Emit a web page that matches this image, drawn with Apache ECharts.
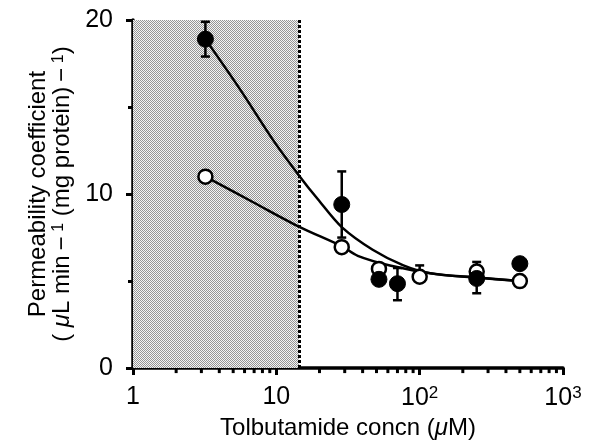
<!DOCTYPE html>
<html><head><meta charset="utf-8">
<script src="https://cdn.jsdelivr.net/npm/echarts@6/dist/echarts.min.js"></script>
<style>html,body{margin:0;padding:0;background:#fff}#c{width:594px;height:445px}</style>
</head><body><div id="c"></div>
<script>
// ---- data ----
const xTickLabels = {1: '1', 10: '10', 100: '10{sup|2}', 1000: '10{sup|3}'};
const yTickValues = [0, 10, 20];
const filledPoints = [[3.2, 18.9], [28.6, 9.4], [52, 5.1], [70, 4.85], [250, 5.15], [500, 6.0]];
const openPoints = [[3.2, 11.0], [28.6, 6.95], [52, 5.7], [100, 5.25], [250, 5.55], [500, 5.0]];
const filledErrors = [[3.2, 17.9, 19.9], [28.6, 7.5, 11.3], [70, 3.9, 5.75], [250, 4.3, 6.1]];
const openErrors = [[100, 5.25, 5.9]];
const filledCurve = [[3.2, 18.9], [5.6, 16.0], [9.5, 13.1], [14.6, 11.0], [19.5, 9.7], [28.6, 8.1], [47, 6.8], [77, 5.9], [118, 5.45], [250, 5.2], [500, 5.0]];
const openCurve = [[3.2, 11.0], [7, 9.5], [14.6, 8.1], [28.6, 7.0], [37, 6.45], [62, 5.9], [130, 5.4], [250, 5.2], [500, 5.0]];
const shadedRange = [1, 14.4];
const minorTicksX = [2, 3, 4, 5, 6, 7, 8, 9, 20, 30, 40, 50, 60, 70, 80, 90, 200, 300, 400, 500, 600, 700, 800, 900];

// ---- pattern for shaded region ----
const pc = document.createElement('canvas');
pc.width = 2; pc.height = 2;
const g = pc.getContext('2d');
g.fillStyle = '#f4f4f4'; g.fillRect(0, 0, 2, 2);
g.fillStyle = '#959595'; g.fillRect(0, 0, 1, 1); g.fillRect(1, 1, 1, 1);

const FONT = 'Liberation Sans';
const chart = echarts.init(document.getElementById('c'), null, {renderer: 'canvas'});

function errRender(params, api) {
  const x = api.value(0), lo = api.value(1), hi = api.value(2);
  const pl = api.coord([x, lo]), ph = api.coord([x, hi]);
  const w = 4.5;
  const st = {stroke: '#000', lineWidth: 2.5};
  return {type: 'group', children: [
    {type: 'line', shape: {x1: pl[0], y1: pl[1], x2: ph[0], y2: ph[1]}, style: st},
    {type: 'line', shape: {x1: pl[0] - w, y1: pl[1], x2: pl[0] + w, y2: pl[1]}, style: st},
    {type: 'line', shape: {x1: ph[0] - w, y1: ph[1], x2: ph[0] + w, y2: ph[1]}, style: st}
  ]};
}

chart.setOption({
  animation: false,
  backgroundColor: '#fff',
  grid: {left: 133, right: 31, top: 20, bottom: 75, containLabel: false},
  xAxis: {
    type: 'log', logBase: 10, min: 1, max: 1000,
    name: 'Tolbutamide concn ({mu|μ}M)', nameLocation: 'middle', nameGap: 45,
    nameTextStyle: {fontFamily: FONT, fontSize: 24, color: '#000',
      rich: {mu: {fontFamily: FONT, fontSize: 24, fontStyle: 'italic', color: '#000'}}},
    axisLine: {lineStyle: {color: '#000', width: 3.5}},
    axisTick: {show: true, inside: false, length: 7, lineStyle: {color: '#000', width: 3}},
    splitLine: {show: false},
    axisLabel: {
      color: '#000', fontFamily: FONT, fontSize: 25, margin: 17,
      formatter: v => xTickLabels[Math.round(v)] || '',
      rich: {sup: {fontFamily: FONT, fontSize: 17, color: '#000', verticalAlign: 'top', padding: [0, 0, 10, 0]}}
    }
  },
  yAxis: {
    type: 'value', min: 0, max: 20, interval: 10,
    name: 'Permeability coefficient\n( {mu|μ}L min\u2009\u2212\u2009{sup|1} (mg protein)\u2009\u2212\u2009{sup|1})',
    nameLocation: 'middle', nameGap: 55, nameRotate: 90,
    nameTextStyle: {fontFamily: FONT, fontSize: 24, color: '#000', lineHeight: 24,
      rich: {mu: {fontFamily: FONT, fontSize: 24, fontStyle: 'italic', color: '#000', lineHeight: 24},
             sup: {fontFamily: FONT, fontSize: 16, color: '#000', verticalAlign: 'top', lineHeight: 24, padding: [0, 0, 6, 0]}}},
    axisLine: {show: true, lineStyle: {color: '#000', width: 3.5}},
    axisTick: {show: true, length: 7, lineStyle: {color: '#000', width: 3}},
    minorTick: {show: true, splitNumber: 2, length: 5, lineStyle: {color: '#000', width: 3}},
    splitLine: {show: false},
    axisLabel: {color: '#000', fontFamily: FONT, fontSize: 25, margin: 20,
      formatter: v => yTickValues.indexOf(v) >= 0 ? String(v) : ''}
  },
  series: [
    {
      type: 'line', data: [], silent: true,
      markArea: {silent: true, itemStyle: {color: {image: pc, repeat: 'repeat'}, borderWidth: 0},
        data: [[{xAxis: shadedRange[0], yAxis: 0}, {xAxis: shadedRange[1], yAxis: 20}]]},
      markLine: {silent: true, symbol: ['none', 'none'], label: {show: false},
        lineStyle: {color: '#000', width: 3, type: [3, 2]},
        data: [{xAxis: shadedRange[1]}]}
    },
    {type: 'custom', clip: false, silent: true, z: 1, data: minorTicksX.map(v => [v, 0]),
      renderItem: (p, api) => {
        const c = api.coord([api.value(0), 0]);
        return {type: 'line', shape: {x1: c[0], y1: c[1], x2: c[0], y2: c[1] + 5}, style: {stroke: '#000', lineWidth: 3}};
      }},
    {type: 'line', data: filledCurve, smooth: 0.3, showSymbol: false, symbol: 'none', z: 3,
      lineStyle: {color: '#000', width: 2.5}},
    {type: 'line', data: openCurve, smooth: 0.3, showSymbol: false, symbol: 'none', z: 3,
      lineStyle: {color: '#000', width: 2.5}},
    {type: 'custom', data: filledErrors, renderItem: errRender, z: 4, silent: true},
    {type: 'custom', data: openErrors, renderItem: errRender, z: 4, silent: true},
    {type: 'scatter', data: openPoints, symbol: 'circle', symbolSize: 14, z: 5,
      itemStyle: {color: '#fff', borderColor: '#000', borderWidth: 2.5, opacity: 1}},
    {type: 'scatter', data: filledPoints, symbol: 'circle', symbolSize: 16, z: 6,
      itemStyle: {color: '#000', borderColor: '#000', borderWidth: 1, opacity: 1}}
  ]
});
</script>
</body></html>
